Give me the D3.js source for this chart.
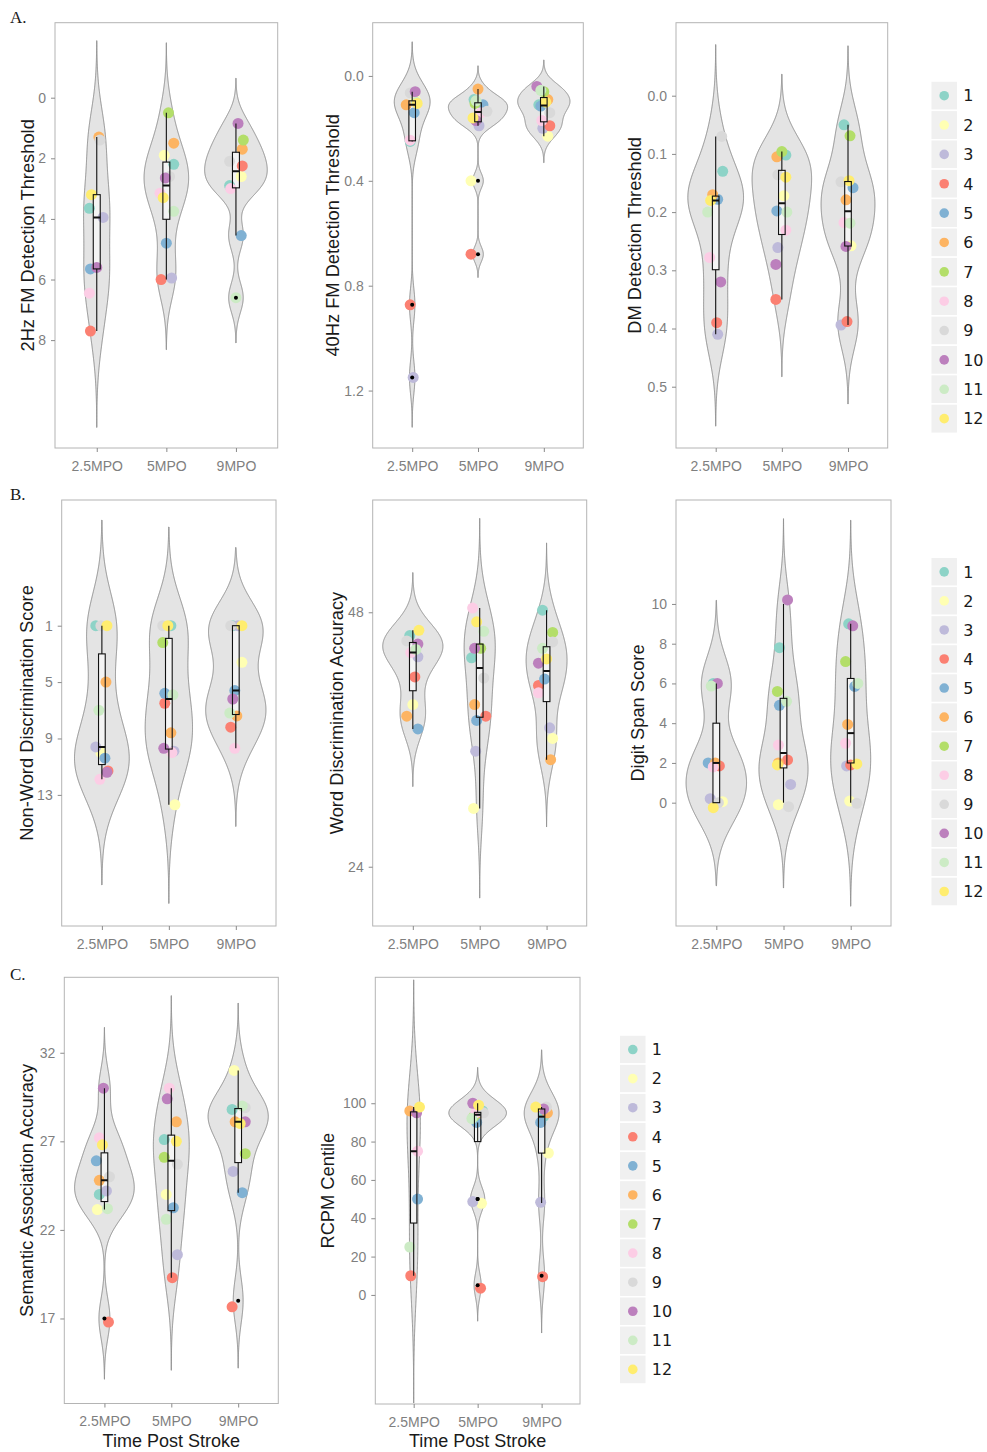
<!DOCTYPE html>
<html><head><meta charset="utf-8">
<script src="https://cdn.jsdelivr.net/npm/d3@7"></script>
<style>body{margin:0;background:#fff}</style>
</head><body>
<svg id="chart" width="987" height="1452"></svg>
<script>
// ---------------- DATA ----------------
const times = ["2.5MPO", "5MPO", "9MPO"];
const subjects = ["1","2","3","4","5","6","7","8","9","10","11","12"];
const subjectColors = ["#8DD3C7","#FFFFB3","#BEBADA","#FB8072","#80B1D3","#FDB462","#B3DE69","#FCCDE5","#D9D9D9","#BC80BD","#CCEBC5","#FFED6F"];

// values per time point (rows) for subjects 1..12 (columns); null = missing
const fm2Hz = [
  [3.65, null, 3.95, 7.7, 5.65, 1.3, null, 6.45, 1.4, 5.6, null, 3.2],
  [2.2, 1.9, 5.95, 6.0, 4.8, 1.5, 0.5, 3.15, 2.6, 2.65, 3.75, 3.3],
  [2.9, 2.6, null, 2.25, 4.55, 1.7, 1.4, 3.0, 2.1, 0.85, 6.6, null]
];
const fm40Hz = [
  [0.25, 0.09, 1.15, 0.873, 0.14, 0.11, null, 0.245, 0.065, 0.06, 0.1, 0.105],
  [0.09, 0.40, 0.19, 0.68, 0.11, 0.05, 0.105, 0.14, 0.135, 0.17, 0.095, 0.16],
  [0.11, 0.23, 0.2, 0.19, 0.115, 0.09, 0.06, 0.17, 0.14, 0.04, 0.055, 0.1]
];
const dmThreshold = [
  [0.13, 0.175, 0.41, 0.39, 0.178, 0.17, null, 0.278, 0.07, 0.32, 0.2, 0.18],
  [0.102, 0.172, 0.261, 0.35, 0.198, 0.105, 0.096, 0.231, 0.136, 0.29, 0.2, 0.14],
  [0.05, 0.258, 0.394, 0.388, 0.158, 0.179, 0.069, 0.218, 0.148, 0.259, 0.219, 0.146]
];
const nonWord = [
  [1, 10.0, 9.6, 11.3, 10.4, 5, null, 11.9, 1, 11.4, 7, 1],
  [1, 13.7, 9.9, 6.5, 5.8, 8.6, 2.2, 10.0, 1, 9.7, 5.9, 1],
  [1, 3.6, 1, 8.2, 5.6, 7.4, null, 9.7, 1, 6.2, 7.2, 1]
];
const wordAcc = [
  [45.8, 39.3, 43.8, 41.9, 37.0, 38.2, null, 44.2, 45.3, 45.0, 44.5, 46.3],
  [43.7, 29.5, 34.9, 38.2, 37.8, 39.3, 44.6, 48.4, 41.8, 44.6, 46.2, 47.1],
  [48.2, 36.1, 37.1, 41.1, 41.7, 34.1, 46.1, 40.4, 45.2, 43.2, 44.6, 43.6]
];
const digitSpan = [
  [6, 0, 0, 2, 2, 2, null, 2, 0, 6, 6, 0],
  [8, 0, 1, 2, 5, 2, 6, 3, 0, 10, 5, 2],
  [9, 0, 2, 2, 6, 4, 7, 3, 0, 9, 6, 2]
];
const semantic = [
  [24.0, 23.15, 24.2, 17, 25.9, 24.8, null, 27.2, 25.0, 30, 23.2, 26.8],
  [27.1, 24.0, 20.6, 19.3, 23.25, 28.1, 26.1, 30, 25.7, 29.4, 22.6, 27.0],
  [28.8, 31, 25.3, 18, 24.1, 28.1, 26.3, null, 28.9, 28.1, 29, 28]
];
const rcpm = [
  [null, null, null, 10, 50, 96, null, 75, null, 95, 25, 98],
  [96, 50, 50, 5, 90, 95, 93, 95, 95, 100, 92, 99],
  [93, 74, 48, 10, 90, 95, null, null, 98, 97, null, 98]
];

// tick labels
const ticksFm2Hz = [0, 2, 4, 6, 8];
const ticksFm40Hz = [0.0, 0.4, 0.8, 1.2];
const ticksDm = [0.0, 0.1, 0.2, 0.3, 0.4, 0.5];
const ticksNonWord = [1, 5, 9, 13];
const ticksWord = [24, 48];
const ticksDigit = [0, 2, 4, 6, 8, 10];
const ticksSemantic = [17, 22, 27, 32];
const ticksRcpm = [0, 20, 40, 60, 80, 100];

// horizontal jitter of the points (in 1/66 of a category step)
const jitFm2Hz = [[-7,0,6,-6,-6,2,0,-7,3,0,-2,-5],[7,-2,5,-5,0,7,2,-6,3,-1,7,-3],[-6,5,0,6,5,6,7,-5,-6,2,0,0]];
const jitFm40Hz = [[-2,3,1,-2,2,-6,0,-2,-2,3,4,5],[-4,-7,1,-7,5,0,-3,3,9,-2,-2,-5],[-5,4,-1,6,-3,4,0,-2,6,-7,-3,2]];
const jitDm = [[7,-3,2,1,2,-3,0,-6,6,5,-8,-5],[4,2,-4,-6,-5,-5,0,4,-4,-6,5,4],[-4,3,-7,-1,5,-2,2,-4,-7,-2,2,1]];
const jitNonWord = [[-6,-1,-6,6,3,4,0,-2,-1,5,-3,5],[2,6,5,-4,-4,2,-6,3,-6,-5,4,-1],[-3,6,2,-5,-1,1,0,-1,-5,-3,-6,6]];
const jitWord = [[-3,0,5,2,5,-6,0,-2,-6,5,3,6],[-8,-6,-4,6,-3,-5,1,-7,4,-5,4,-3],[-4,6,3,-8,-2,4,6,-8,6,-8,-4,0]];
const jitDigit = [[-3,6,-6,3,-8,-1,0,-3,2,1,-5,-3],[-4,-5,7,4,-4,-5,-6,-5,5,4,3,-6],[-2,-1,-4,0,4,-3,-5,-5,6,2,7,6]];
const jitSemantic = [[-5,-7,2,4,-8,-5,0,-5,5,-1,3,-2],[-7,-5,6,1,2,5,-7,-2,6,-4,-5,5],[-6,-4,-5,-6,4,-3,7,0,7,7,4,2]];
const jitRcpm = [[0,0,0,-3,4,-4,0,4,0,3,-4,6],[5,4,-5,3,-1,2,-4,-2,6,-5,-6,1],[2,7,-1,1,-1,6,0,0,5,2,0,-6]];
// vertical jitter of displayed points (data units)
const jyZero = [[0,0,0,0,0,0,0,0,0,0,0,0],[0,0,0,0,0,0,0,0,0,0,0,0],[0,0,0,0,0,0,0,0,0,0,0,0]];
const jyDigit = [
  [0, 0.05, 0.2, -0.15, 0, 0, 0, -0.2, 0, 0, -0.13, -0.25],
  [-0.2, -0.1, -0.08, 0.15, -0.1, 0, -0.4, -0.1, -0.2, 0.2, 0.1, -0.1],
  [0, 0.08, -0.15, -0.1, -0.15, -0.06, 0.1, -0.01, -0.03, -0.1, 0, -0.05]
];
const jySemantic = [[0,0,0,-0.2,0,0,0,0,0,0,0,0],[0,0,0,0,0,0,0,0,0,0,0,0],[0,0,0,-0.34,0,0,0,0,0,0,0,0]];
const jyRcpm = [[0,0,0,0,0,0,0,0,0,0,0,0],[0,-2.2,-1.3,-1.5,0,0,0,0,0,0,0,0],[0,0,0.3,-0.5,0,0,0,0,0,0,0,0]];

// ---------------- LAYOUT ----------------
const panels = [
  {vals: fm2Hz, jit: jitFm2Hz, jy: jyZero, ticks: ticksFm2Hz, fmt: "d", title: "2Hz FM Detection Threshold",
   x0: 55, x1: 277.7, y0: 22.7, y1: 448, top: -2.475, bottom: 11.56, titleX: 27},
  {vals: fm40Hz, jit: jitFm40Hz, jy: jyZero, ticks: ticksFm40Hz, fmt: ".1f", title: "40Hz FM Detection Threshold",
   x0: 372.7, x1: 583.3, y0: 22.7, y1: 448, top: -0.203, bottom: 1.419, titleX: 332},
  {vals: dmThreshold, jit: jitDm, jy: jyZero, ticks: ticksDm, fmt: ".1f", title: "DM Detection Threshold",
   x0: 676, x1: 887.7, y0: 22.7, y1: 448, top: -0.1254, bottom: 0.6053, titleX: 634.5},
  {vals: nonWord, jit: jitNonWord, jy: jyZero, ticks: ticksNonWord, fmt: "d", title: "Non-Word Discrimination Score",
   x0: 61.7, x1: 276, y0: 500, y1: 926, top: -7.915, bottom: 22.3, titleX: 26},
  {vals: wordAcc, jit: jitWord, jy: jyZero, ticks: ticksWord, fmt: "d", title: "Word Discrimination Accuracy",
   x0: 372.7, x1: 586.7, y0: 500, y1: 926, top: 58.59, bottom: 18.41, titleX: 336},
  {vals: digitSpan, jit: jitDigit, jy: jyDigit, ticks: ticksDigit, fmt: "d", title: "Digit Span Score",
   x0: 676, x1: 891, y0: 500, y1: 926, top: 15.23, bottom: -6.205, titleX: 637},
  {vals: semantic, jit: jitSemantic, jy: jySemantic, ticks: ticksSemantic, fmt: "d", title: "Semantic Association Accuracy",
   x0: 64.3, x1: 278.3, y0: 977.3, y1: 1403.5, top: 36.26, bottom: 12.2, titleX: 26, xTitle: "Time Post Stroke"},
  {vals: rcpm, jit: jitRcpm, jy: jyRcpm, ticks: ticksRcpm, fmt: "d", title: "RCPM Centile",
   x0: 375.3, x1: 580, y0: 977.3, y1: 1404, top: 165.7, bottom: -56.9, titleX: 327.5, xTitle: "Time Post Stroke"}
];
const legends = [
  {x: 930.7, y: 81, h: 29.36},
  {x: 930.7, y: 557.3, h: 29.06},
  {x: 619.3, y: 1035, h: 29.08}
];
const letters = [{t: "A.", x: 10, y: 23}, {t: "B.", x: 10, y: 500}, {t: "C.", x: 10, y: 980}];

// ---------------- HELPERS ----------------
function bwNrd0(sorted) {
  const n = sorted.length;
  const hi = d3.deviation(sorted);
  const iqr = d3.quantileSorted(sorted, 0.75) - d3.quantileSorted(sorted, 0.25);
  let lo = Math.min(hi, iqr / 1.34);
  if (!(lo > 0)) lo = hi || Math.abs(sorted[0]) || 1;
  return 0.9 * lo * Math.pow(n, -0.2);
}
function kde(sorted, bw) {
  const lo = sorted[0] - 3 * bw, hi = sorted[sorted.length - 1] + 3 * bw;
  const N = 512, out = [];
  const c = 1 / (sorted.length * bw * Math.sqrt(2 * Math.PI));
  for (let i = 0; i < N; i++) {
    const v = lo + (hi - lo) * i / (N - 1);
    let s = 0;
    for (const xi of sorted) { const z = (v - xi) / bw; s += Math.exp(-0.5 * z * z); }
    out.push([v, s * c]);
  }
  return out;
}

const svg = d3.select("#chart");
const defs = svg.append("defs");
const FONT = "'Liberation Sans', Arial, sans-serif";

panels.forEach((p, pi) => {
  const x = d3.scalePoint().domain(times).range([p.x0, p.x1]).padding(0.6);
  const y = d3.scaleLinear().domain([p.top, p.bottom]).range([p.y0, p.y1]);
  const step = x.step();
  const g = svg.append("g");

  g.append("rect").attr("x", p.x0).attr("y", p.y0).attr("width", p.x1 - p.x0).attr("height", p.y1 - p.y0)
    .attr("fill", "#fff");

  defs.append("clipPath").attr("id", "clip" + pi).append("rect")
    .attr("x", p.x0).attr("y", p.y0).attr("width", p.x1 - p.x0).attr("height", p.y1 - p.y0);
  const plot = g.append("g").attr("clip-path", `url(#clip${pi})`);

  const groups = times.map((t, ti) => {
    const sorted = p.vals[ti].filter(v => v != null).sort(d3.ascending);
    const bw = bwNrd0(sorted);
    const dens = kde(sorted, bw);
    const q1 = d3.quantileSorted(sorted, 0.25), med = d3.quantileSorted(sorted, 0.5), q3 = d3.quantileSorted(sorted, 0.75);
    const iqr = q3 - q1;
    const inside = sorted.filter(v => v >= q1 - 1.5 * iqr && v <= q3 + 1.5 * iqr);
    const outliers = sorted.filter(v => v < q1 - 1.5 * iqr || v > q3 + 1.5 * iqr);
    return {t, ti, sorted, dens, q1, med, q3, wLo: d3.min(inside), wHi: d3.max(inside), outliers};
  });
  const maxD = d3.max(groups, gr => d3.max(gr.dens, d => d[1]));
  const half = d3.scaleLinear().domain([0, maxD]).range([0, 0.45 * step]);

  // violins
  groups.forEach(gr => {
    const cx = x(gr.t);
    const area = d3.area().y(d => y(d[0])).x0(d => cx - half(d[1])).x1(d => cx + half(d[1]));
    plot.append("path").attr("d", area(gr.dens))
      .attr("fill", "#e4e4e4").attr("stroke", "#8e8e8e").attr("stroke-width", 1);
  });

  const bwid = 0.1 * step;
  // box fill
  groups.forEach(gr => {
    const cx = x(gr.t);
    const ya = y(gr.q1), yb = y(gr.q3);
    plot.append("rect").attr("x", cx - bwid / 2).attr("y", Math.min(ya, yb))
      .attr("width", bwid).attr("height", Math.abs(ya - yb)).attr("fill", "#fff").attr("fill-opacity", 0.6);
  });

  // points
  groups.forEach(gr => {
    const cx = x(gr.t);
    p.vals[gr.ti].forEach((v, si) => {
      if (v == null) return;
      plot.append("circle")
        .attr("cx", cx + p.jit[gr.ti][si] / 66 * step)
        .attr("cy", y(v + p.jy[gr.ti][si]))
        .attr("r", 5.5).attr("fill", subjectColors[si]);
    });
  });

  // box lines
  groups.forEach(gr => {
    const cx = x(gr.t);
    const ya = y(gr.q1), yb = y(gr.q3);
    plot.append("line").attr("x1", cx).attr("x2", cx).attr("y1", y(gr.wLo)).attr("y2", ya)
      .attr("stroke", "#111").attr("stroke-width", 1.1);
    plot.append("line").attr("x1", cx).attr("x2", cx).attr("y1", y(gr.wHi)).attr("y2", yb)
      .attr("stroke", "#111").attr("stroke-width", 1.1);
    plot.append("rect").attr("x", cx - bwid / 2).attr("y", Math.min(ya, yb))
      .attr("width", bwid).attr("height", Math.abs(ya - yb)).attr("fill", "none")
      .attr("stroke", "#111").attr("stroke-width", 1.1);
    plot.append("line").attr("x1", cx - bwid / 2).attr("x2", cx + bwid / 2)
      .attr("y1", y(gr.med)).attr("y2", y(gr.med)).attr("stroke", "#111").attr("stroke-width", 2);
    gr.outliers.forEach(o => {
      plot.append("circle").attr("cx", cx).attr("cy", y(o)).attr("r", 2).attr("fill", "#000");
    });
  });

  // border
  g.append("rect").attr("x", p.x0).attr("y", p.y0).attr("width", p.x1 - p.x0).attr("height", p.y1 - p.y0)
    .attr("fill", "none").attr("stroke", "#b4b4b4").attr("stroke-width", 1);

  // axes
  const ya = g.append("g").attr("transform", `translate(${p.x0},0)`)
    .call(d3.axisLeft(y).tickValues(p.ticks).tickFormat(d3.format(p.fmt)).tickSize(4).tickPadding(5));
  const xa = g.append("g").attr("transform", `translate(0,${p.y1})`)
    .call(d3.axisBottom(x).tickSize(4).tickPadding(9));
  [ya, xa].forEach(a => {
    a.select(".domain").remove();
    a.selectAll(".tick line").attr("stroke", "#8a8a8a");
    a.selectAll(".tick text").attr("fill", "#7f7f7f").style("font-family", FONT).style("font-size", "14px");
  });

  // titles
  g.append("text").attr("transform", `translate(${p.titleX},${(p.y0 + p.y1) / 2}) rotate(-90)`)
    .attr("text-anchor", "middle").attr("dy", "0.36em")
    .style("font-family", FONT).style("font-size", "18.3px").attr("fill", "#1a1a1a").text(p.title);
  if (p.xTitle) {
    g.append("text").attr("x", (p.x0 + p.x1) / 2).attr("y", 1447).attr("text-anchor", "middle")
      .style("font-family", FONT).style("font-size", "18px").attr("fill", "#1a1a1a").text(p.xTitle);
  }
});

// legends
legends.forEach(L => {
  const lg = svg.append("g");
  subjects.forEach((s, i) => {
    const yy = L.y + i * L.h;
    lg.append("rect").attr("x", L.x).attr("y", yy).attr("width", 27).attr("height", L.h)
      .attr("fill", "#f0f0f0").attr("stroke", "#fff").attr("stroke-width", 1.5);
    lg.append("circle").attr("cx", L.x + 13.5).attr("cy", yy + L.h / 2).attr("r", 4.8).attr("fill", subjectColors[i]);
    lg.append("text").attr("x", L.x + 32.5).attr("y", yy + L.h / 2).attr("dy", "0.36em")
      .style("font-family", "'DejaVu Sans', sans-serif").style("font-size", "16px").attr("fill", "#1a1a1a").text(s);
  });
});

// panel letters
letters.forEach(l => {
  svg.append("text").attr("x", l.x).attr("y", l.y)
    .style("font-family", "'Liberation Serif', 'Times New Roman', serif").style("font-size", "17px")
    .attr("fill", "#1a1a1a").text(l.t);
});
</script>
</body></html>
